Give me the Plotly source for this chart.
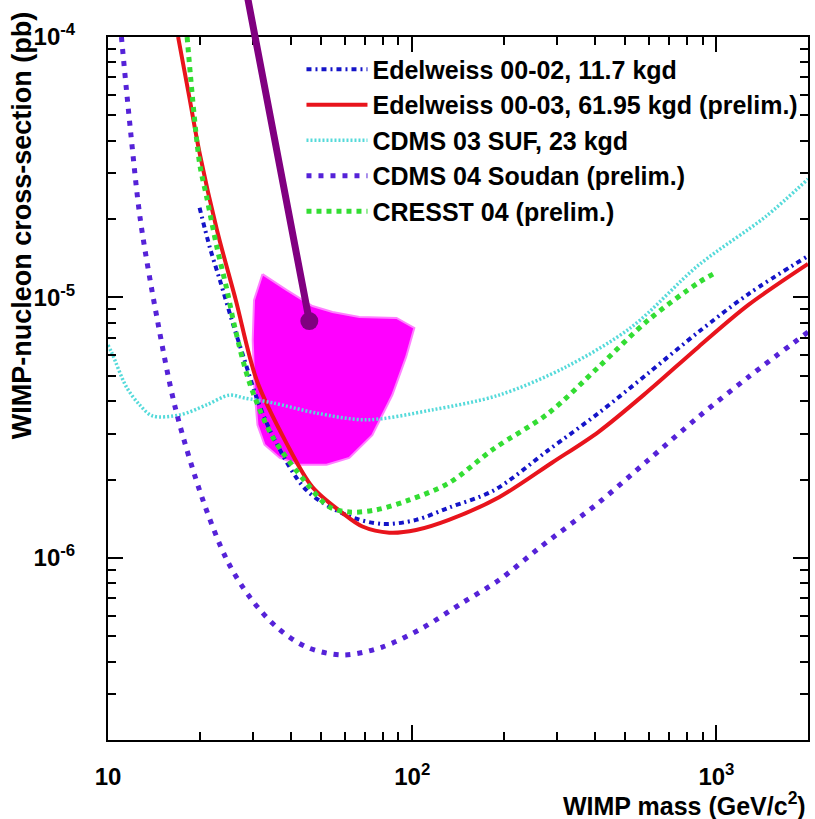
import numpy as np
import plotly.graph_objects as go

# ---------------- data (WIMP mass in GeV/c^2, cross-section in pb) ----------------
ew02_mass = [20.0, 21.6, 23.3, 25.7, 28.1, 31.0, 35.3, 44.9, 60.8, 79.7, 103, 132, 186, 281, 410, 598, 873, 1274, 2000]
ew02_xs = [2.21e-5, 1.56e-5, 1.17e-5, 7.98e-6, 5.75e-6, 4.04e-6, 2.84e-6, 1.82e-6, 1.46e-6,
           1.35e-6, 1.40e-6, 1.56e-6, 1.82e-6, 2.60e-6, 3.60e-6, 5.13e-6, 7.37e-6, 1.031e-5, 1.443e-5]

ew03_mass = [17.0, 18.5, 20.0, 22.8, 26.3, 30.8, 38.6, 47.0, 58.9, 68.6, 84.1, 103, 132, 193, 288, 410, 598, 873, 1274, 2000]
ew03_xs = [1.0e-4, 5.89e-5, 3.59e-5, 1.82e-5, 9.78e-6, 4.82e-6, 2.76e-6, 1.87e-6, 1.49e-6, 1.32e-6,
           1.25e-6, 1.28e-6, 1.40e-6, 1.71e-6, 2.32e-6, 3.05e-6, 4.38e-6, 6.46e-6, 9.36e-6, 1.345e-5]

suf_mass = [10, 10.3, 11.5, 12.7, 14.0, 17.2, 21.1, 25.1, 28.1, 34.8, 48.4, 70.7, 116, 193, 320, 526, 873, 1448, 2000]
suf_xs = [6.57e-6, 6.12e-6, 4.53e-6, 3.87e-6, 3.51e-6, 3.54e-6, 3.87e-6, 4.22e-6, 4.11e-6, 3.94e-6,
          3.60e-6, 3.39e-6, 3.70e-6, 4.22e-6, 5.41e-6, 7.70e-6, 1.33e-5, 2.04e-5, 2.85e-5]

soudan_mass = [11.07, 11.85, 12.78, 14.53, 16.71, 20.5, 24.6, 29.2, 35.8, 44.9, 58.9, 79.7, 108, 146, 193, 261, 410, 598, 873, 1274, 2000]
soudan_xs = [1.0e-4, 4.40e-5, 1.98e-5, 8.20e-6, 3.70e-6, 1.67e-6, 9.82e-7, 7.09e-7, 5.43e-7, 4.55e-7, 4.24e-7,
             4.55e-7, 5.38e-7, 6.72e-7, 8.23e-7, 1.09e-6, 1.63e-6, 2.38e-6, 3.48e-6, 4.95e-6, 7.37e-6]

cresst_mass = [18.2, 20.0, 21.1, 22.8, 24.6, 26.1, 29.2, 34.8, 44.9, 53.4, 62.2, 76.2, 97.8, 132, 185, 281, 410, 598, 873, 1000]
cresst_xs = [1.0e-4, 3.28e-5, 2.43e-5, 1.56e-5, 1.07e-5, 7.70e-6, 4.70e-6, 2.91e-6, 1.94e-6, 1.57e-6,
             1.50e-6, 1.53e-6, 1.67e-6, 1.94e-6, 2.62e-6, 3.60e-6, 5.41e-6, 8.20e-6, 1.14e-5, 1.25e-5]

dama_mass = [32.2, 30.2, 29.9, 30.3, 31.0, 32.7, 36.7, 42.6, 52.3, 62.1, 73.9, 86.0, 95.5, 101.6, 88.8, 67.0, 54.7, 47.0, 38.6, 32.2]
dama_xs = [1.23e-5, 9.77e-6, 6.87e-6, 4.42e-6, 3.24e-6, 2.72e-6, 2.42e-6, 2.28e-6, 2.28e-6, 2.42e-6,
           2.96e-6, 4.22e-6, 5.91e-6, 7.64e-6, 8.34e-6, 8.41e-6, 8.79e-6, 9.27e-6, 1.07e-5, 1.23e-5]

# pointer (line from outside the frame to a dot)
pointer_tail = (28.5, 1.5e-4)
pointer_head = (45.9, 8.12e-6)

x_ticks = [10, 100, 1000]
x_ticktext = ["10", "10<sup>2</sup>", "10<sup>3</sup>"]
y_ticks = [1e-6, 1e-5, 1e-4]
y_ticktext = ["10<sup>-6</sup>", "10<sup>-5</sup>", "10<sup>-4</sup>"]
x_minor = [20, 30, 40, 50, 60, 70, 80, 90, 200, 300, 400, 500, 600, 700, 800, 900]
y_minor = [3e-7, 4e-7, 5e-7, 6e-7, 7e-7, 8e-7, 9e-7,
           2e-6, 3e-6, 4e-6, 5e-6, 6e-6, 7e-6, 8e-6, 9e-6,
           2e-5, 3e-5, 4e-5, 5e-5, 6e-5, 7e-5, 8e-5, 9e-5]

FONT = "Liberation Sans, Arial, Helvetica, sans-serif"
TXT = 25

fig = go.Figure()

# DAMA region
fig.add_trace(go.Scatter(x=dama_mass, y=dama_xs, fill="toself", fillcolor="#ff00ff",
                         line=dict(color="#ff80ff", width=2), mode="lines",
                         showlegend=False, hoverinfo="skip"))

series = [
    ("Edelweiss 00-02, 11.7 kgd", ew02_mass, ew02_xs, "#1414c8", 4, "5px,4px,2px,4px"),
    ("Edelweiss 00-03, 61.95 kgd (prelim.)", ew03_mass, ew03_xs, "#e8141c", 4, "solid"),
    ("CDMS 03 SUF, 23 kgd", suf_mass, suf_xs, "#55dada", 3.5, "2px,2px"),
    ("CDMS 04 Soudan (prelim.)", soudan_mass, soudan_xs, "#5522d8", 5, "5px,7px"),
    ("CRESST 04 (prelim.)", cresst_mass, cresst_xs, "#33dd33", 5, "5px,5px"),
]
for i, (name, xs, ys, col, w, dash) in enumerate(series):
    fig.add_trace(go.Scatter(x=xs, y=ys, mode="lines", name=name,
                             line=dict(color=col, width=w, dash=dash, shape="spline", smoothing=0.9)))

# pointer dot
fig.add_trace(go.Scatter(x=[pointer_head[0]], y=[pointer_head[1]], mode="markers",
                         marker=dict(size=18, color="#800080"), showlegend=False,
                         hoverinfo="skip", cliponaxis=False))

fig.add_annotation(x=np.log10(pointer_head[0]), y=np.log10(pointer_head[1]),
                   ax=np.log10(pointer_tail[0]), ay=np.log10(pointer_tail[1]),
                   xref="x", yref="y", axref="x", ayref="y",
                   text="", showarrow=True, arrowhead=0, arrowwidth=7,
                   arrowcolor="#800080", standoff=0, startstandoff=0)

# axis titles
fig.add_annotation(text="WIMP-nucleon cross-section (pb)", textangle=-90,
                   xref="paper", yref="paper", x=-0.1225, y=0.7326,
                   xanchor="center", yanchor="middle", showarrow=False,
                   font=dict(family=FONT, size=27, color="black", weight="bold"))
fig.add_annotation(text="WIMP mass (GeV/c<sup>2</sup>)",
                   xref="paper", yref="paper", x=1.0, y=-0.0915,
                   xanchor="right", yanchor="middle", showarrow=False,
                   font=dict(family=FONT, size=TXT, color="black", weight="bold"))

axis_common = dict(
    showgrid=False, zeroline=False, showline=True, linecolor="black", linewidth=2,
    mirror="ticks", ticks="inside", ticklen=15, tickwidth=1.5, tickcolor="black",
    tickfont=dict(family=FONT, size=24, color="black", weight="bold"),
)

fig.update_xaxes(type="log", range=[1, np.log10(2000)], tickvals=x_ticks, ticktext=x_ticktext,
                 minor=dict(tickvals=x_minor, ticks="inside", ticklen=8, tickwidth=1.5, tickcolor="black"),
                 ticklabelstandoff=14, **axis_common)
fig.update_yaxes(type="log", range=[np.log10(2e-7), -4], tickvals=y_ticks, ticktext=y_ticktext,
                 minor=dict(tickvals=y_minor, ticks="inside", ticklen=8, tickwidth=1.5, tickcolor="black"),
                 ticklabelstandoff=26, **axis_common)

fig.update_layout(
    width=815, height=819,
    margin=dict(l=108, r=5, t=37, b=79),
    paper_bgcolor="white", plot_bgcolor="white",
    font=dict(family=FONT, size=TXT, color="black", weight="bold"),
    legend=dict(x=0.2764, y=0.9866, xanchor="left", yanchor="top",
                bgcolor="rgba(0,0,0,0)", borderwidth=0,
                font=dict(family=FONT, size=TXT, color="black", weight="bold"),
                tracegroupgap=0, itemwidth=61),
    showlegend=True,
)

fig.write_html("out.html")
